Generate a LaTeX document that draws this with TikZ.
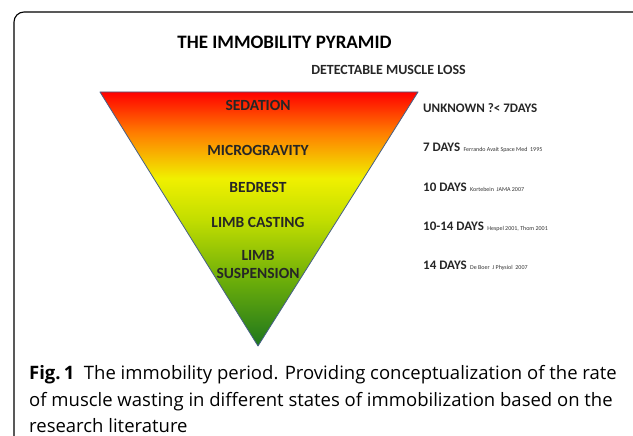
\documentclass[tikz,border=0pt]{standalone}
\usepackage{fontspec}
\setmainfont{Carlito}
\newfontfamily\capfont{Open Sans}
\definecolor{redtop}{RGB}{255,0,0}
\definecolor{orng}{RGB}{255,125,0}
\definecolor{yel}{RGB}{240,240,0}
\definecolor{ygr}{RGB}{195,222,0}
\definecolor{grn}{RGB}{105,172,10}
\definecolor{dgrn}{RGB}{30,118,30}
\definecolor{outl}{RGB}{70,95,135}
\pgfdeclareverticalshading{pyrshade}{100bp}{color(0bp)=(dgrn); color(25bp)=(dgrn); color(37.5bp)=(grn); color(50bp)=(ygr); color(58bp)=(yel); color(67bp)=(orng); color(75bp)=(redtop); color(100bp)=(redtop)}
\tikzset{
  lvl/.style={font=\bfseries\fontsize{15.5}{17}\selectfont, text=black!85, align=center, inner sep=0pt},
  dayslbl/.style={anchor=west, inner sep=0pt, font=\bfseries\fontsize{13}{14}\selectfont, text=black!85},
  reflbl/.style={anchor=base west, inner sep=0pt, font=\fontsize{6}{7}\selectfont, text=black!80},
  capline/.style={anchor=base west, inner sep=0pt, font=\capfont\fontsize{18.5}{20}\selectfont}
}
\begin{document}
\begin{tikzpicture}[x=1pt,y=-1pt]
\useasboundingbox (0,0) rectangle (633,436);
% frame
\draw[line width=1.1pt, rounded corners=10pt] (14,437) -- (14,12) -- (640,12);
% title
\node[font=\bfseries\fontsize{19}{21}\selectfont, inner sep=0pt] (title) at (284.5,42) {THE IMMOBILITY PYRAMID};
\node[font=\bfseries\fontsize{14}{15}\selectfont, inner sep=0pt, text=black!85] (detect) at (388.5,70) {DETECTABLE MUSCLE LOSS};
% pyramid
\coordinate (tl) at (100,92);
\coordinate (tr) at (418,92);
\coordinate (ap) at (258,346);
\shade[shading=pyrshade] (tl) -- (tr) -- (ap) -- cycle;
\draw[outl, line width=0.8pt, line join=round] (tl) -- (tr) -- (ap) -- cycle;
% level labels
\node[lvl] (sed) at (258,105) {SEDATION};
\node[lvl] (micro) at (258,150) {MICROGRAVITY};
\node[lvl] (bed) at (258,187) {BEDREST};
\node[lvl] (cast) at (258,222) {LIMB CASTING};
\node[lvl] (susp) at (258,265) {LIMB\\[1pt]SUSPENSION};
% right labels
\node[dayslbl] (d0) at (423,108) {UNKNOWN ?< 7DAYS};
\node[dayslbl] (d1) at (423,147) {7 DAYS};
\node[reflbl] at ([xshift=3pt]d1.base east) {Ferrando Avait Space Med\ \ 1995};
\node[dayslbl] (d2) at (423,187) {10 DAYS};
\node[reflbl] at ([xshift=3pt]d2.base east) {Kortebein\ \ JAMA 2007};
\node[dayslbl] (d3) at (423,226) {10-14 DAYS};
\node[reflbl] at ([xshift=3pt]d3.base east) {Hespel 2001, Thom 2001};
\node[dayslbl] (d4) at (423,265) {14 DAYS};
\node[reflbl] at ([xshift=3pt]d4.base east) {De Boer\ \ J Physiol\ \ 2007};
% caption
\node[capline] (c1) at (29,379) {\textbf{Fig.\,1}\ \ The immobility period. Providing conceptualization of the rate};
\node[capline] (c2) at (29,406) {of muscle wasting in different states of immobilization based on the};
\node[capline] (c3) at (29,432) {research literature};
\end{tikzpicture}
\end{document}
